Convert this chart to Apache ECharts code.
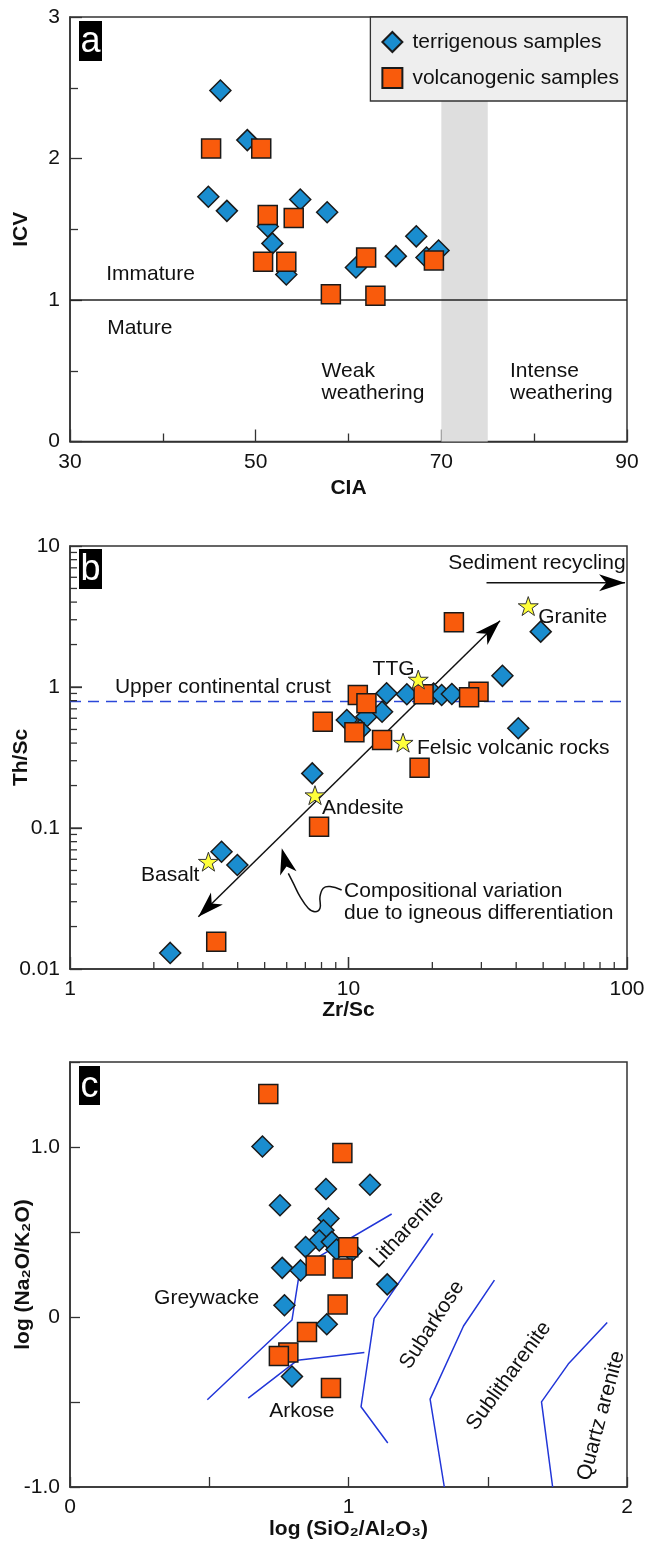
<!DOCTYPE html>
<html><head><meta charset="utf-8">
<script src="https://cdn.jsdelivr.net/npm/echarts@6/dist/echarts.min.js"></script>
<style>html,body{margin:0;padding:0;background:#fff}#c{width:647px;height:1547px}</style>
</head><body><div id="c"></div>
<script>
// ---------- Panel a : CIA vs ICV ----------
const aTerrCIA = [46.2,49.1,44.9,46.9,54.8,57.7,51.3,51.8,53.3,60.8,65.1,67.3,68.4,69.7];
const aTerrICV = [2.48,2.13,1.73,1.63,1.71,1.62,1.52,1.40,1.18,1.23,1.31,1.45,1.30,1.35];
const aVolcCIA = [45.2,50.6,51.3,54.1,50.8,53.3,61.9,58.1,62.9,69.2];
const aVolcICV = [2.07,2.07,1.60,1.58,1.27,1.27,1.30,1.04,1.03,1.28];
const aBand = [70, 75];          // CIA range of the grey band
const aICVLimit = 1;             // immature / mature boundary
const aXTickLabels = ['30','50','70','90'];
const aYTickLabels = ['0','1','2','3'];

// ---------- Panel b : Zr/Sc vs Th/Sc ----------
const bTerrZr = [13.7,16.2,20.2,21.6,23.5,9.86,11.6,13.2,11.0,35.7,40.7,7.41,3.5,3.99,2.29,49.0];
const bTerrTh = [0.902,0.888,0.90,0.877,0.892,0.583,0.616,0.668,0.496,1.20,0.51,0.244,0.0679,0.0547,0.0130,2.47];
const bVolcZr = [23.9,10.8,11.6,8.08,10.5,13.2,18.6,29.3,27.1,18.0,7.84,3.35];
const bVolcTh = [2.88,0.877,0.766,0.567,0.477,0.421,0.888,0.926,0.845,0.268,0.102,0.0156];
const bRefNames = ['Granite','TTG','Felsic volcanic rocks','Andesite','Basalt'];
const bRefZr = [44.2,17.8,15.7,7.58,3.14];
const bRefTh = [3.75,1.13,0.403,0.171,0.0577];
const bUCC = 0.79;
const bXTickLabels = ['1','10','100'];
const bYTickLabels = ['0.01','0.1','1','10'];

// ---------- Panel c : log(SiO2/Al2O3) vs log(Na2O/K2O) ----------
const cTerrX = [0.691,1.077,0.919,0.754,0.928,0.910,0.895,0.846,0.940,0.957,1.011,0.762,0.828,1.139,0.770,0.922,0.797];
const cTerrY = [1.003,0.778,0.753,0.657,0.579,0.510,0.450,0.412,0.442,0.397,0.387,0.289,0.274,0.192,0.069,-0.043,-0.350];
const cVolcX = [0.712,0.978,0.999,0.882,0.979,0.961,0.851,0.784,0.750,0.937];
const cVolcY = [1.312,0.964,0.410,0.303,0.286,0.074,-0.088,-0.209,-0.229,-0.418];
const cBoundaries = [
  [[0.493,-0.487],[0.797,-0.018],[0.820,0.221],[0.886,0.348],[1.155,0.606]],
  [[0.640,-0.477],[0.817,-0.254],[1.057,-0.209]],
  [[1.303,0.491],[1.092,-0.008],[1.045,-0.528],[1.141,-0.741]],
  [[1.524,0.217],[1.413,-0.053],[1.293,-0.483],[1.344,-1.0]],
  [[1.929,-0.033],[1.789,-0.277],[1.693,-0.499],[1.733,-1.0]]
];
const cXTickLabels = ['0','1','2'];
const cYTickLabels = ['-1.0','0','1.0'];

// ---------- annotations (data coordinates) ----------
const aNotes = [[33.9,1.18,'Immature',0],[34.0,0.80,'Mature',0],[57.1,0.418,'Weak\nweathering',0],[77.4,0.418,'Intense\nweathering',0]];
const bNotes = [[1.45,1.0,'Upper continental crust',0],[22.8,7.61,'Sediment recycling',0],[12.2,1.34,'TTG',0],[48.0,3.12,'Granite',0],
  [17.6,0.369,'Felsic volcanic rocks',0],[8.03,0.139,'Andesite',0],[1.80,0.0464,'Basalt',0],[9.64,0.0296,'Compositional variation\ndue to igneous differentiation',0]];
const cNotes = [[0.302,0.111,'Greywacke',0,'left'],[0.715,-0.557,'Arkose',0,'left'],[1.210,0.516,'Litharenite',47,'center'],
  [1.300,-0.047,'Subarkose',57,'center'],[1.576,-0.346,'Sublitharenite',54,'center'],[1.907,-0.581,'Quartz arenite',75,'center']];
const bArrows = [[2.89,0.0235,35.0,2.95,1,1],[31.3,5.49,98.4,5.49,0,1]];
const bCurve = [[9.45,0.0363],[8.58,0.0384],[8.12,0.0374],[7.90,0.0326],[7.90,0.0270],[7.58,0.0255],[7.17,0.0270],[6.70,0.0326],[6.34,0.0405],[6.08,0.0477],[5.76,0.0718]];
const bMinorBase = [2,3,4,5,6,7,8,9];

const F = '"Liberation Sans", Arial, Helvetica, sans-serif';
const BLUE = '#1a8dcf', ORANGE = '#f95b0c', EDGE = '#1a1a1a';
const STAR = 'path://M50,0 L61.8,35.1 L98.8,35.1 L68.8,57 L80.2,92.3 L50,70.5 L19.8,92.3 L31.2,57 L1.2,35.1 L38.2,35.1 Z';

const zip = (xs, ys) => xs.map((x,i)=>[x, ys[i]]);

function textSeries(xi, yi, anns){
  return {type:'custom', xAxisIndex:xi, yAxisIndex:yi, silent:true, clip:false, z:20,
    data: anns.map(a=>[a[0],a[1]]),
    renderItem:(params, api)=>{
      const a = anns[params.dataIndex];
      const p = api.coord([api.value(0), api.value(1)]);
      return {type:'text', x:p[0], y:p[1], rotation:(a[3]||0)*Math.PI/180,
        style:{text:a[2], fontSize:21, fontFamily:F, fill:'#111', align:a[4]||'left', verticalAlign:'middle', lineHeight:22}};
    }};
}
function headPts(tip, from, len, hw, notch){
  const dx=tip[0]-from[0], dy=tip[1]-from[1], L=Math.hypot(dx,dy);
  const ux=dx/L, uy=dy/L, nx=-uy, ny=ux;
  const bx=tip[0]-ux*len, by=tip[1]-uy*len;
  return [[tip[0],tip[1]],[bx+nx*hw,by+ny*hw],[tip[0]-ux*len*notch,tip[1]-uy*len*notch],[bx-nx*hw,by-ny*hw]];
}
function tickSeries(xi, yi, items, xMin, yMin){
  // items: ['x'|'y', value, length]
  return {type:'custom', xAxisIndex:xi, yAxisIndex:yi, silent:true, clip:false, z:6,
    data: items.map(t=> t[0]==='x' ? [t[1], yMin] : [xMin, t[1]]),
    renderItem:(params, api)=>{
      const t = items[params.dataIndex];
      const p = api.coord([api.value(0), api.value(1)]);
      const s = {stroke:'#333', lineWidth:1.3};
      if (t[0]==='x') return {type:'line', shape:{x1:p[0],y1:p[1],x2:p[0],y2:p[1]-t[2]}, style:s};
      return {type:'line', shape:{x1:p[0],y1:p[1],x2:p[0]+t[2],y2:p[1]}, style:s};
    }};
}
const bTicks = [];
[1,10].forEach(d=>bMinorBase.forEach(m=>bTicks.push(['x', d*m, 7])));
bTicks.push(['x',10,12]);
[0.01,0.1,1].forEach(d=>bMinorBase.forEach(m=>bTicks.push(['y', d*m, 7])));
[0.1,1].forEach(v=>bTicks.push(['y',v,12]));

const axisCommon = {
  axisLine:{show:true, onZero:false, lineStyle:{color:'#333', width:1.5}},
  axisTick:{show:true, inside:true, length:12, lineStyle:{color:'#333', width:1.3}},
  splitLine:{show:false},
  axisLabel:{fontSize:21, fontFamily:F, color:'#111', margin:10},
  nameTextStyle:{fontSize:21, fontWeight:'bold', fontFamily:F, color:'#111'},
  nameLocation:'middle',
  nameMoveOverlap:false
};
function ax(o){ return Object.assign({}, JSON.parse(JSON.stringify(axisCommon)), o); }
function lbl(list){ return v => { const s = list.find(t=>Math.abs(parseFloat(t)-v)<1e-9); return s===undefined?'':s; }; }

const gridStyle = {show:true, borderColor:'#333', borderWidth:1.5, containLabel:false, outerBoundsMode:'none'};

const option = {
  animation:false,
  backgroundColor:'#fff',
  grid:[
    Object.assign({left:70, top:17, width:557, height:424.5}, gridStyle),
    Object.assign({left:70, top:546, width:557, height:423}, gridStyle),
    Object.assign({left:70, top:1062, width:557, height:425}, gridStyle)
  ],
  xAxis:[
    ax({gridIndex:0, type:'value', min:30, max:90, interval:20, name:'CIA', nameGap:36,
        minorTick:{show:true, splitNumber:2, length:8, lineStyle:{color:'#333', width:1.3}},
        axisLabel:Object.assign({}, axisCommon.axisLabel, {formatter:lbl(aXTickLabels)})}),
    ax({gridIndex:1, type:'log', logBase:10, min:1, max:100, name:'Zr/Sc', nameGap:31,
        axisLabel:Object.assign({}, axisCommon.axisLabel, {formatter:lbl(bXTickLabels)})}),
    ax({gridIndex:2, type:'value', min:0, max:2, interval:0.5, name:'log (SiO₂/Al₂O₃)', nameGap:32,
        axisTick:{show:true, inside:true, length:10, lineStyle:{color:'#333', width:1.3}},
        axisLabel:Object.assign({}, axisCommon.axisLabel, {formatter:lbl(cXTickLabels)})})
  ],
  yAxis:[
    ax({gridIndex:0, type:'value', min:0, max:3, interval:1, name:'ICV', nameGap:38,
        minorTick:{show:true, splitNumber:2, length:8, lineStyle:{color:'#333', width:1.3}},
        axisLabel:Object.assign({}, axisCommon.axisLabel, {formatter:lbl(aYTickLabels)})}),
    ax({gridIndex:1, type:'log', logBase:10, min:0.01, max:10, name:'Th/Sc', nameGap:38,
        axisLabel:Object.assign({}, axisCommon.axisLabel, {formatter:lbl(bYTickLabels)})}),
    ax({gridIndex:2, type:'value', min:-1, max:1.5, interval:0.5, name:'log (Na₂O/K₂O)', nameGap:36,
        axisTick:{show:true, inside:true, length:10, lineStyle:{color:'#333', width:1.3}},
        axisLabel:Object.assign({}, axisCommon.axisLabel, {formatter:lbl(cYTickLabels)})})
  ],
  legend:{
    right:20, top:17, orient:'vertical', backgroundColor:'#eeeeee', borderColor:'#333', borderWidth:1.3,
    padding:[14,8,12,11], itemGap:14, itemWidth:20, itemHeight:20, selectedMode:false,
    textStyle:{fontSize:21, fontFamily:F, color:'#111', padding:[0,0,0,5]},
    data:['terrigenous samples','volcanogenic samples']
  },
  graphic:[
    {type:'group', left:79, top:21, z:100, children:[
      {type:'rect', shape:{x:0,y:0,width:23,height:40}, style:{fill:'#000'}},
      {type:'text', x:11.5, y:21, style:{text:'a', fill:'#fff', fontSize:36, fontFamily:F, align:'center', verticalAlign:'middle'}}]},
    {type:'group', left:79, top:549, z:100, children:[
      {type:'rect', shape:{x:0,y:0,width:23,height:40}, style:{fill:'#000'}},
      {type:'text', x:11.5, y:21, style:{text:'b', fill:'#fff', fontSize:36, fontFamily:F, align:'center', verticalAlign:'middle'}}]},
    {type:'group', left:79, top:1066, z:100, children:[
      {type:'rect', shape:{x:0,y:0,width:21,height:39}, style:{fill:'#000'}},
      {type:'text', x:10.5, y:21, style:{text:'c', fill:'#fff', fontSize:36, fontFamily:F, align:'center', verticalAlign:'middle'}}]}
  ],
  series:[
    // ----- panel a -----
    {type:'custom', xAxisIndex:0, yAxisIndex:0, silent:true, z:1, data:[[aBand[0],0,aBand[1],3]], encode:{x:[0,2], y:[1,3]},
      renderItem:(p, api)=>{ const a=api.coord([api.value(0),api.value(3)]), b=api.coord([api.value(2),api.value(1)]);
        return {type:'rect', shape:{x:a[0],y:a[1],width:b[0]-a[0],height:b[1]-a[1]}, style:{fill:'#dedede'}}; }},
    {type:'line', xAxisIndex:0, yAxisIndex:0, data:[[30,aICVLimit],[90,aICVLimit]], symbol:'none', silent:true, z:2,
      lineStyle:{color:'#222', width:1.5}},
    {type:'scatter', name:'terrigenous samples', xAxisIndex:0, yAxisIndex:0, data:zip(aTerrCIA,aTerrICV), symbol:'diamond', symbolSize:21,
      itemStyle:{color:BLUE, borderColor:EDGE, borderWidth:1.5, opacity:1}, z:3},
    {type:'scatter', name:'volcanogenic samples', xAxisIndex:0, yAxisIndex:0, data:zip(aVolcCIA,aVolcICV), symbol:'rect', symbolSize:19,
      itemStyle:{color:ORANGE, borderColor:EDGE, borderWidth:1.5, opacity:1}, z:4},
    textSeries(0,0,aNotes),
    // ----- panel b -----
    {type:'line', xAxisIndex:1, yAxisIndex:1, data:[[1,bUCC],[100,bUCC]], symbol:'none', silent:true, z:2,
      lineStyle:{color:'#2b47d9', width:1.6, type:[11,7]}},
    {type:'custom', xAxisIndex:1, yAxisIndex:1, silent:true, clip:false, z:3, data:bArrows.map(a=>a.slice(0,4)), encode:{x:[0,2], y:[1,3]},
      renderItem:(params, api)=>{
        const a = bArrows[params.dataIndex];
        const p1 = api.coord([api.value(0),api.value(1)]), p2 = api.coord([api.value(2),api.value(3)]);
        const ch = [{type:'line', shape:{x1:p1[0],y1:p1[1],x2:p2[0],y2:p2[1]}, style:{stroke:'#111', lineWidth:1.5}}];
        if (a[5]) ch.push({type:'polygon', shape:{points:headPts(p2,p1,26,8.5,0.72)}, style:{fill:'#000'}});
        if (a[4]) ch.push({type:'polygon', shape:{points:headPts(p1,p2,26,8.5,0.72)}, style:{fill:'#000'}});
        return {type:'group', children:ch};
      }},
    {type:'custom', xAxisIndex:1, yAxisIndex:1, silent:true, clip:false, z:3, data:[bCurve[0]],
      renderItem:(params, api)=>{
        const pts = bCurve.map(q=>api.coord(q));
        const n = pts.length;
        return {type:'group', children:[
          {type:'polyline', shape:{points:pts.slice(0,n-1), smooth:0.4}, style:{stroke:'#111', lineWidth:1.5, fill:null}},
          {type:'polygon', shape:{points:headPts(pts[n-1], pts[n-2], 26, 8.5, 0.72)}, style:{fill:'#000'}}
        ]};
      }},
    {type:'scatter', name:'terrigenous samples', xAxisIndex:1, yAxisIndex:1, data:zip(bTerrZr,bTerrTh), symbol:'diamond', symbolSize:21,
      itemStyle:{color:BLUE, borderColor:EDGE, borderWidth:1.5, opacity:1}, z:4},
    {type:'scatter', name:'volcanogenic samples', xAxisIndex:1, yAxisIndex:1, data:zip(bVolcZr,bVolcTh), symbol:'rect', symbolSize:19,
      itemStyle:{color:ORANGE, borderColor:EDGE, borderWidth:1.5, opacity:1}, z:5},
    {type:'scatter', name:'reference', xAxisIndex:1, yAxisIndex:1, data:bRefNames.map((n,i)=>({name:n, value:[bRefZr[i], bRefTh[i]]})),
      symbol:STAR, symbolSize:20, symbolKeepAspect:true, itemStyle:{color:'#ffff3a', borderColor:'#333', borderWidth:1, opacity:1}, z:6},
    textSeries(1,1,bNotes),
    tickSeries(1,1,bTicks,1,0.01),
    // ----- panel c -----
    ...cBoundaries.map(b=>({type:'line', xAxisIndex:2, yAxisIndex:2, data:b, symbol:'none', silent:true, z:2,
      lineStyle:{color:'#2236d8', width:1.5}})),
    {type:'scatter', name:'terrigenous samples', xAxisIndex:2, yAxisIndex:2, data:zip(cTerrX,cTerrY), symbol:'diamond', symbolSize:21,
      itemStyle:{color:BLUE, borderColor:EDGE, borderWidth:1.5, opacity:1}, z:4},
    {type:'scatter', name:'volcanogenic samples', xAxisIndex:2, yAxisIndex:2, data:zip(cVolcX,cVolcY), symbol:'rect', symbolSize:19,
      itemStyle:{color:ORANGE, borderColor:EDGE, borderWidth:1.5, opacity:1}, z:5},
    textSeries(2,2,cNotes)
  ]
};
const chart = echarts.init(document.getElementById('c'), null, {renderer:'canvas'});
chart.setOption(option);
</script></body></html>
